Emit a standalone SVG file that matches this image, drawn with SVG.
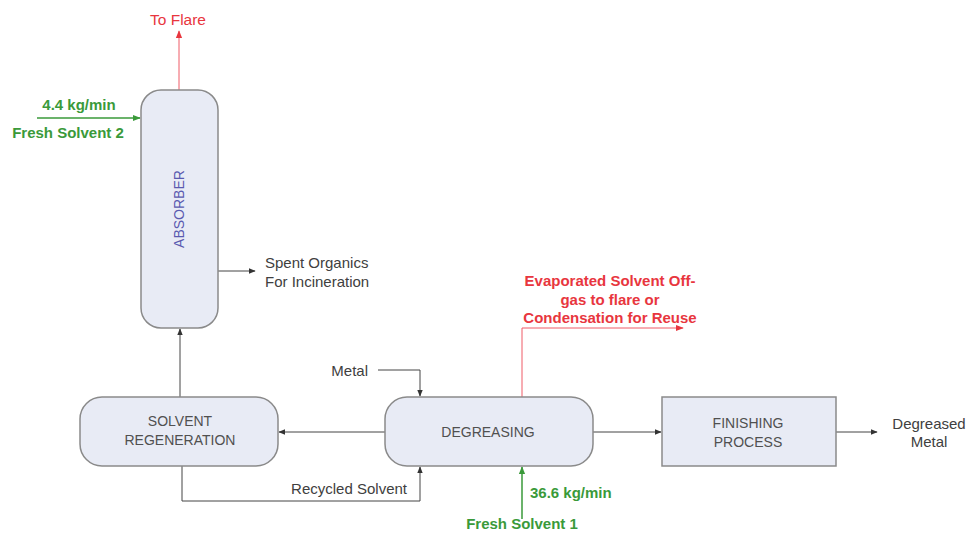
<svg xmlns="http://www.w3.org/2000/svg" width="967" height="533" viewBox="0 0 967 533">
<style>
.node{fill:#e8ebf5;stroke:#8a8a8a;stroke-width:1.5}
.t{font-family:"Liberation Sans",Arial,sans-serif;font-size:14px;fill:#505050}
.lbl{font-family:"Liberation Sans",Arial,sans-serif;font-size:15px;fill:#404040}
.g{font-family:"Liberation Sans",Arial,sans-serif;font-size:15px;font-weight:bold;fill:#3a9a3a}
.r{font-family:"Liberation Sans",Arial,sans-serif;font-size:15px;font-weight:bold;fill:#e8363e}
.c{fill:none;stroke:#444;stroke-width:1}
.cg{fill:none;stroke:#3a9a3a;stroke-width:1.5}
.cr{fill:none;stroke:#ef5a66;stroke-width:1}
</style>
<defs>
<marker id="ak" viewBox="0 0 10 10" refX="9" refY="5" markerWidth="7" markerHeight="7" orient="auto" markerUnits="userSpaceOnUse"><path d="M0,1 L10,5 L0,9 z" fill="#333"/></marker>
<marker id="ag" viewBox="0 0 10 10" refX="9" refY="5" markerWidth="8" markerHeight="8" orient="auto" markerUnits="userSpaceOnUse"><path d="M0,1 L10,5 L0,9 z" fill="#3a9a3a"/></marker>
<marker id="ar" viewBox="0 0 10 10" refX="9" refY="5" markerWidth="8" markerHeight="8" orient="auto" markerUnits="userSpaceOnUse"><path d="M0,1 L10,5 L0,9 z" fill="#e8363e"/></marker>
</defs>
<rect width="967" height="533" fill="#fff"/>
<g id="connectors">
<path class="cr" d="M179,90 V31" marker-end="url(#ar)"/>
<path class="cg" d="M37,118 H140" marker-end="url(#ag)"/>
<path class="c" d="M218,271 H255" marker-end="url(#ak)"/>
<path class="c" d="M180,397 V329" marker-end="url(#ak)"/>
<path class="c" d="M385,432 H279" marker-end="url(#ak)"/>
<path class="c" d="M378,370 H420 V396" marker-end="url(#ak)"/>
<path class="c" d="M182,466 V501 H420 V467" marker-end="url(#ak)"/>
<path class="cr" d="M522,397 V328 H683" marker-end="url(#ar)"/>
<path class="cg" d="M522,519 V467" marker-end="url(#ag)"/>
<path class="c" d="M593,432 H661" marker-end="url(#ak)"/>
<path class="c" d="M836,432 H877" marker-end="url(#ak)"/>
</g>
<g id="absorber">
<rect class="node" x="141" y="90" width="77" height="238" rx="20"/>
<text class="t" transform="translate(184,209) rotate(-90)" text-anchor="middle" style="fill:#5a5ab0">ABSORBER</text>
</g>
<g id="solvent-regeneration">
<rect class="node" x="80" y="397" width="198" height="69" rx="22"/>
<text class="t" x="180" y="426" text-anchor="middle">SOLVENT</text>
<text class="t" x="180" y="445" text-anchor="middle">REGENERATION</text>
</g>
<g id="degreasing">
<rect class="node" x="385" y="397" width="208" height="69" rx="22"/>
<text class="t" x="488" y="437" text-anchor="middle">DEGREASING</text>
</g>
<g id="finishing-process">
<rect class="node" x="662" y="397" width="174" height="69"/>
<text class="t" x="748" y="428" text-anchor="middle">FINISHING</text>
<text class="t" x="748" y="447" text-anchor="middle">PROCESS</text>
</g>
<g id="labels">
<text class="r" x="178" y="25" text-anchor="middle" style="font-weight:normal;font-size:15.5px">To Flare</text>
<text class="g" x="79" y="110" text-anchor="middle">4.4 kg/min</text>
<text class="g" x="68" y="138" text-anchor="middle">Fresh Solvent 2</text>
<text class="lbl" x="265" y="268">Spent Organics</text>
<text class="lbl" x="265" y="287">For Incineration</text>
<text class="lbl" x="368" y="376" text-anchor="end">Metal</text>
<text class="lbl" x="407" y="494" text-anchor="end">Recycled Solvent</text>
<text class="r" x="610" y="286" text-anchor="middle">Evaporated Solvent Off-</text>
<text class="r" x="610" y="305" text-anchor="middle">gas to flare or</text>
<text class="r" x="610" y="323" text-anchor="middle">Condensation for Reuse</text>
<text class="g" x="530" y="498">36.6 kg/min</text>
<text class="g" x="522" y="529" text-anchor="middle">Fresh Solvent 1</text>
<text class="lbl" x="929" y="429" text-anchor="middle">Degreased</text>
<text class="lbl" x="929" y="447" text-anchor="middle">Metal</text>
</g>
</svg>
